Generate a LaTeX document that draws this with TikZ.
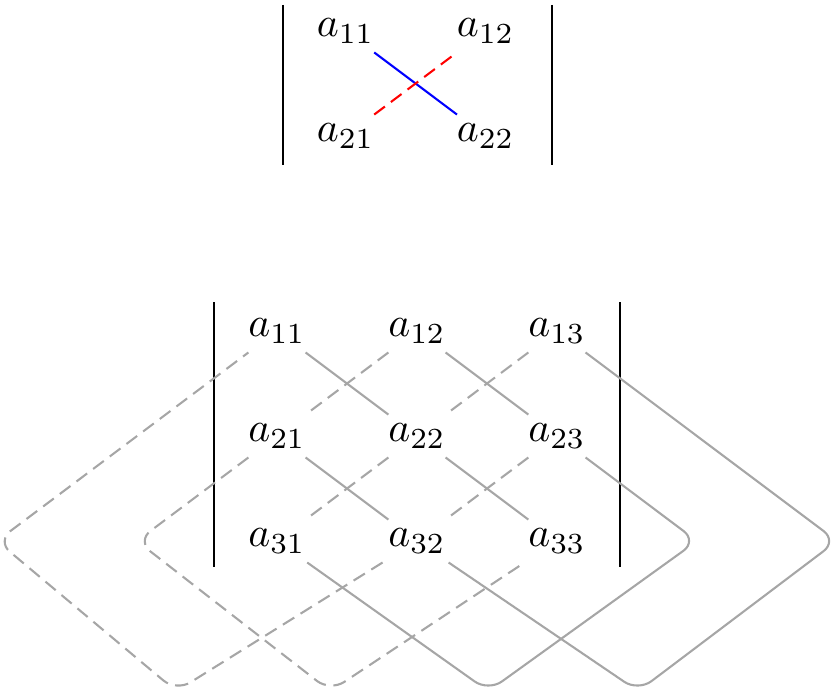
\documentclass[tikz,border=0pt]{standalone}
\usepackage{amsmath}
\usepackage{tikz}

\tikzset{
    entry/.style={inner sep=2pt},
    posline/.style={gray!70},
    negline/.style={gray!70, dash pattern=on 3.2pt off 1.8pt},
}

\begin{document}
\begin{tikzpicture}[x=1.181cm, y=0.886cm, line width=0.5pt]
        \useasboundingbox (-1.979,-3.467) rectangle (3.979,3.152);
        % 2x2
        \node[entry] (p11) at (0.49,2.857) {$a_{11}$};
        \node[entry] (p12) at (1.49,2.857) {$a_{12}$};
        \node[entry] (p21) at (0.49,1.857) {$a_{21}$};
        \node[entry] (p22) at (1.49,1.857) {$a_{22}$};
        \draw (0.043,3.105) -- (0.043,1.581);
        \draw (1.964,3.105) -- (1.964,1.581);
        \draw [blue] (p11) -- (p22);
        \draw [red, dash pattern=on 3.2pt off 1.8pt] (p21) -- (p12);
        % 3x3
        \node[entry] (q11) at (0,0) {$a_{11}$};
        \node[entry] (q12) at (1,0) {$a_{12}$};
        \node[entry] (q13) at (2,0) {$a_{13}$};
        \node[entry] (q21) at (0,-1) {$a_{21}$};
        \node[entry] (q22) at (1,-1) {$a_{22}$};
        \node[entry] (q23) at (2,-1) {$a_{23}$};
        \node[entry] (q31) at (0,-2) {$a_{31}$};
        \node[entry] (q32) at (1,-2) {$a_{32}$};
        \node[entry] (q33) at (2,-2) {$a_{33}$};
        \draw (-0.45,0.276) -- (-0.45,-2.248);
        \draw (2.45,0.276) -- (2.45,-2.248);
        % corners of the wrapped diagonals
        \coordinate (r1) at (3,-2);
        \coordinate (r2) at (4,-2);
        \coordinate (l1) at (-1,-2);
        \coordinate (l2) at (-2,-2);
        \coordinate (s1) at (1.51,-3.43);
        \coordinate (s2) at (2.58,-3.43);
        \coordinate (t1) at (0.38,-3.43);
        \coordinate (t2) at (-0.72,-3.43);
        \draw [posline] (q11) -- (q22) -- (q33);
        \draw [posline, rounded corners] (q12) -- (q23) -- (r1) -- (s1) -- (q31);
        \draw [posline, rounded corners] (q21) -- (q32) -- (s2) -- (r2) -- (q13);
        \draw [negline] (q13) -- (q22) -- (q31);
        \draw [negline, rounded corners] (q12) -- (q21) -- (l1) -- (t1) -- (q33);
        \draw [negline, rounded corners] (q23) -- (q32) -- (t2) -- (l2) -- (q11);
    \end{tikzpicture}
\end{document}
